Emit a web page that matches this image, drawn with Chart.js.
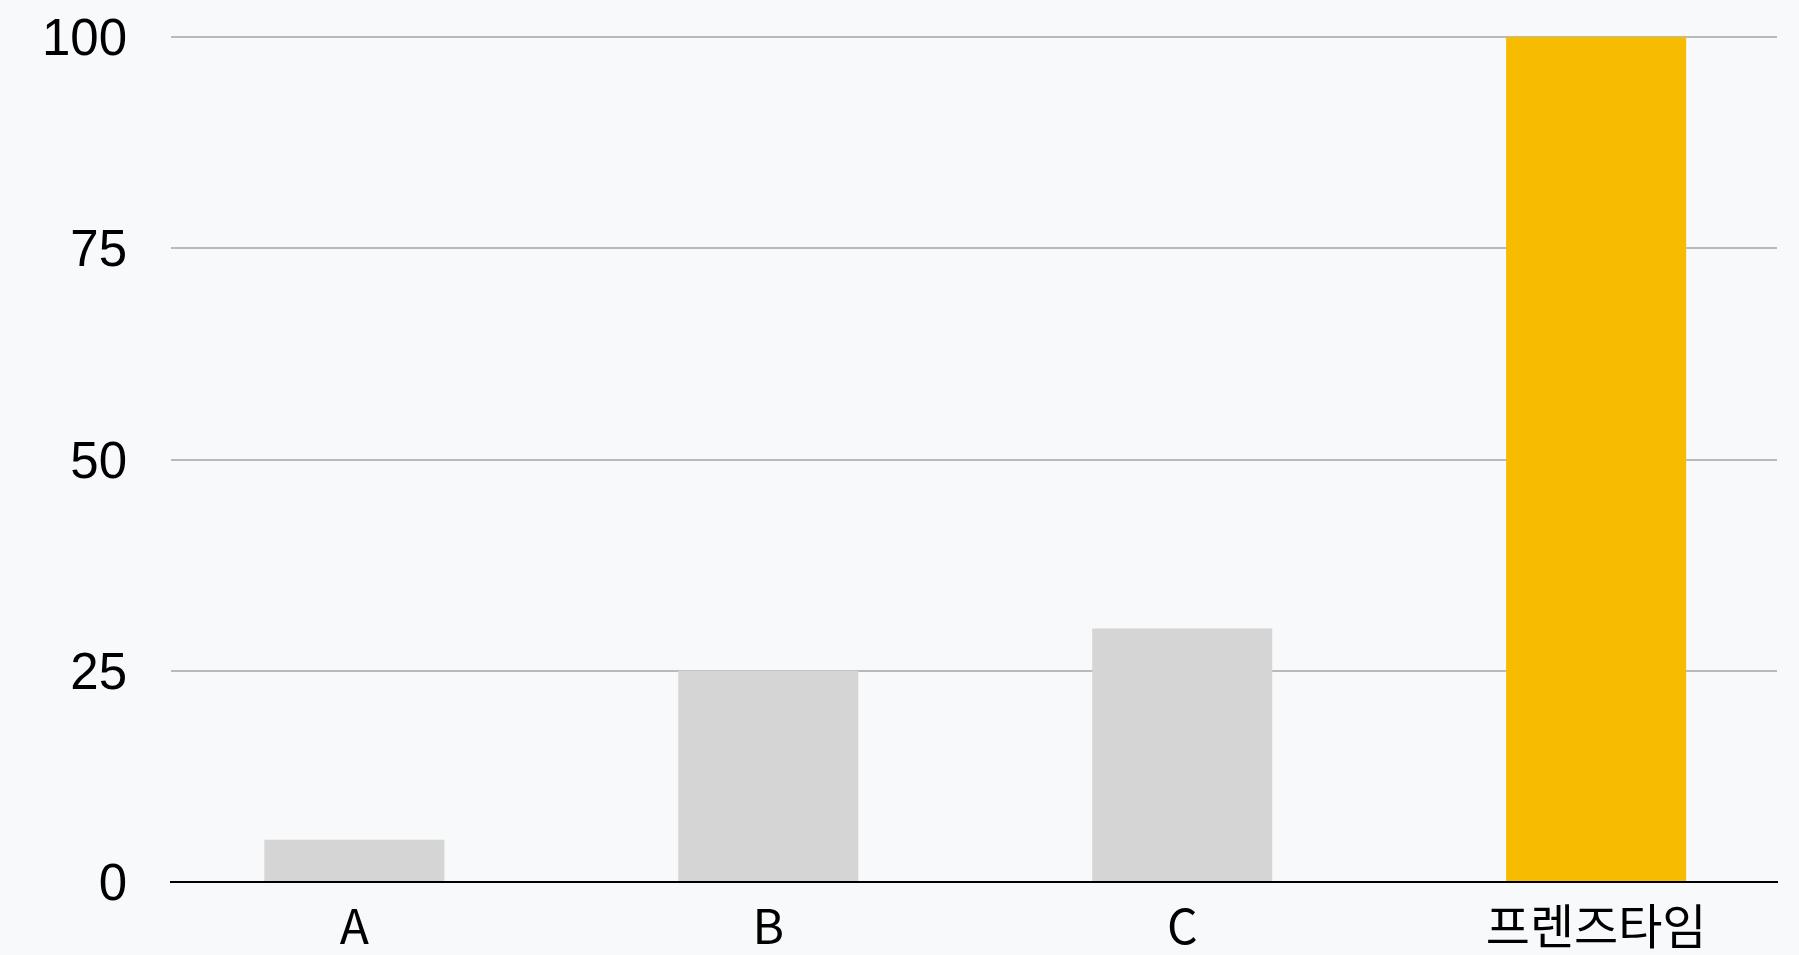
<!DOCTYPE html>
<html>
<head>
<meta charset="utf-8">
<script src="https://cdn.jsdelivr.net/npm/chart.js@4/dist/chart.umd.min.js"></script>
<style>
  html, body { margin: 0; padding: 0; background: #f8f9fa; overflow: hidden; }
  #wrap { width: 1799px; height: 955px; position: relative; }
</style>
</head>
<body>
<div id="wrap"><canvas id="chart"></canvas></div>
<script>
// 데이터
const categorias = ['A', 'B', 'C', '프렌즈타임'];
const valores = [5, 25, 30, 100];
const coresBarras = ['#d5d5d5', '#d5d5d5', '#d5d5d5', '#f7bb00'];
const ticksY = [0, 25, 50, 75, 100];

const ctx = document.getElementById('chart').getContext('2d');

// barras em eixo linear para acompanhar o espaçamento original
let chart = new Chart(ctx, {
  type: 'bar',
  data: {
    datasets: [{
      data: valores.map((v, i) => ({ x: i, y: v })),
      backgroundColor: coresBarras,
      borderWidth: 0,
      categoryPercentage: 1,
      barPercentage: 0.435
    }]
  },
  options: {
    responsive: true,
    maintainAspectRatio: false,
    animation: false,
    layout: { padding: { top: 37, right: 22, bottom: 0, left: 0 } },
    plugins: { legend: { display: false }, tooltip: { enabled: false } },
    scales: {
      x: {
        type: 'linear',
        offset: false,
        bounds: 'ticks',
        min: -0.443,
        max: 3.437,
        afterBuildTicks: (scale) => { scale.ticks = categorias.map((c, i) => ({ value: i })); },
        afterFit: (scale) => { scale.height = 73; },
        ticks: {
          autoSkip: false,
          maxRotation: 0,
          padding: 15,
          color: '#000',
          font: { family: '"Noto Sans CJK KR", "Noto Sans", sans-serif', size: 48, lineHeight: 1.2 },
          callback: (v) => categorias[v]
        },
        grid: { display: false, drawTicks: false },
        border: { display: true, color: '#000', width: 2 }
      },
      y: {
        min: 0,
        max: 100,
        afterBuildTicks: (scale) => { scale.ticks = ticksY.map(v => ({ value: v })); },
        afterFit: (scale) => {
          scale.width = 171;
          scale.paddingTop = 0;
          scale.paddingBottom = 0;
        },
        ticks: {
          padding: 44,
          labelOffset: 4,
          color: '#000',
          font: { family: '"Liberation Sans", Arial, sans-serif', size: 51, lineHeight: 1.2 }
        },
        grid: {
          drawTicks: false,
          color: (c) => c.tick && c.tick.value === 0 ? 'rgba(0,0,0,0)' : '#bababa',
          lineWidth: 2
        },
        border: { display: false }
      }
    }
  }
});
</script>
</body>
</html>
